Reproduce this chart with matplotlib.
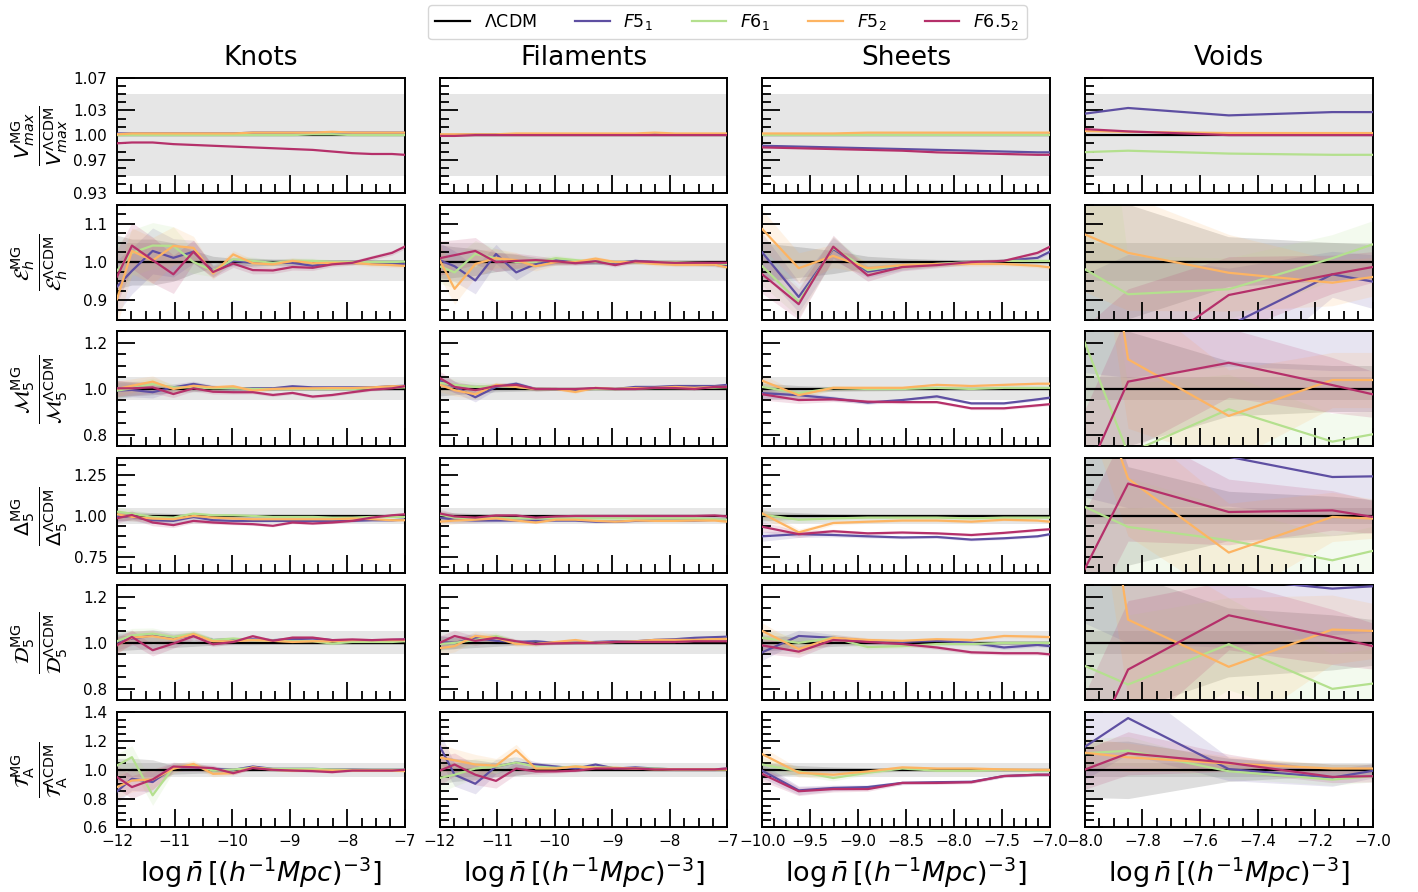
import matplotlib
matplotlib.use("Agg")
import matplotlib.pyplot as plt
from matplotlib.ticker import FixedLocator, MultipleLocator
from matplotlib.lines import Line2D

# ---------------- x grids (log n) ----------------
x_knots = [-12.0, -11.74, -11.38, -11.02, -10.67, -10.33, -9.98, -9.64,
           -9.29, -8.95, -8.60, -8.26, -7.91, -7.57, -7.22, -7.0]
x_fil = x_knots
x_sheets = [-10.0, -9.62, -9.26, -8.9, -8.54, -8.18, -7.82, -7.48, -7.13, -7.0]
x_voids = [-8.2, -7.85, -7.5, -7.14, -7.0]

# model order: F5_1, F6_1, F5_2, F6.5_2  (LCDM ratio is 1 everywhere)
# ---------------- V_max ----------------
vmax_knots = [
    [1.002, 1.002, 1.002, 1.002, 1.002, 1.002, 1.002, 1.003, 1.003, 1.003, 1.003, 1.003, 1.003, 1.003, 1.003, 1.003],
    [1.000, 1.000, 1.000, 1.000, 1.000, 1.000, 1.000, 1.000, 1.000, 1.000, 1.001, 1.001, 1.000, 1.000, 1.000, 1.000],
    [1.001, 1.002, 1.002, 1.002, 1.002, 1.002, 1.002, 1.003, 1.003, 1.003, 1.003, 1.004, 1.003, 1.003, 1.003, 1.003],
    [0.990, 0.991, 0.991, 0.989, 0.988, 0.987, 0.986, 0.985, 0.984, 0.983, 0.982, 0.980, 0.978, 0.977, 0.977, 0.976]]
vmax_fil = [
    [1.000, 1.000, 1.001, 1.001, 1.001, 1.001, 1.001, 1.001, 1.001, 1.001, 1.001, 1.001, 1.001, 1.001, 1.001, 1.001],
    [1.000, 1.000, 1.000, 1.000, 1.000, 1.000, 1.000, 1.000, 1.000, 1.000, 1.000, 1.000, 1.000, 1.000, 1.000, 1.000],
    [1.001, 1.001, 1.001, 1.001, 1.002, 1.002, 1.002, 1.002, 1.002, 1.002, 1.002, 1.003, 1.002, 1.002, 1.002, 1.002],
    [0.999, 0.999, 1.000, 1.000, 1.000, 1.000, 1.000, 1.000, 1.000, 1.000, 1.000, 1.000, 1.000, 1.000, 1.000, 1.000]]
vmax_sheets = [
    [0.987, 0.986, 0.985, 0.984, 0.983, 0.982, 0.981, 0.980, 0.979, 0.979],
    [1.000, 1.000, 1.000, 1.000, 1.000, 1.000, 1.000, 1.000, 1.000, 1.000],
    [1.002, 1.002, 1.002, 1.003, 1.003, 1.003, 1.003, 1.003, 1.003, 1.003],
    [0.985, 0.984, 0.983, 0.982, 0.981, 0.979, 0.978, 0.977, 0.976, 0.976]]
vmax_voids = [
    [1.017, 1.033, 1.024, 1.028, 1.028],
    [0.977, 0.981, 0.9775, 0.976, 0.976],
    [1.006, 1.004, 1.0025, 1.0025, 1.0025],
    [1.011, 1.0045, 1.000, 1.000, 1.000]]

# ---------------- E_h ----------------
eh_knots = [
    [0.936, 0.977, 1.029, 1.011, 1.027, 0.977, 1.003, 0.998, 0.998, 0.998, 0.990, 0.998, 1.000, 0.998, 0.996, 0.995],
    [0.977, 1.024, 1.043, 1.042, 1.000, 0.977, 1.007, 1.003, 0.998, 1.003, 1.003, 1.000, 1.000, 1.000, 1.000, 1.001],
    [0.903, 1.029, 1.004, 1.042, 1.037, 0.970, 1.020, 0.997, 0.994, 1.003, 0.997, 0.998, 0.998, 0.994, 0.992, 0.990],
    [0.962, 1.043, 1.005, 0.968, 1.027, 0.974, 0.996, 0.979, 0.978, 0.987, 0.985, 0.994, 0.998, 1.011, 1.024, 1.040]]
eh_fil = [
    [1.005, 0.989, 0.952, 1.021, 0.973, 0.995, 1.005, 1.000, 1.000, 0.997, 1.003, 1.000, 0.995, 0.995, 0.993, 0.989],
    [0.989, 0.973, 1.021, 1.010, 1.000, 1.000, 1.010, 1.005, 1.000, 1.000, 1.000, 1.000, 1.000, 0.998, 0.997, 0.995],
    [1.005, 0.930, 0.995, 1.010, 1.005, 0.989, 1.000, 1.000, 1.009, 1.000, 1.000, 0.995, 0.993, 0.993, 0.993, 0.986],
    [1.010, 1.018, 1.029, 1.000, 1.003, 1.005, 1.002, 0.997, 1.002, 0.992, 1.002, 1.000, 0.998, 0.998, 0.998, 0.998]]
eh_sheets = [
    [1.025, 0.909, 1.034, 0.975, 0.989, 0.995, 1.000, 1.003, 1.011, 1.027],
    [0.989, 0.896, 1.037, 0.979, 0.992, 0.995, 1.000, 1.003, 1.003, 1.003],
    [1.086, 0.984, 1.016, 0.984, 0.992, 0.995, 0.995, 0.995, 0.990, 0.986],
    [0.968, 0.890, 1.040, 0.965, 0.987, 0.992, 1.000, 1.003, 1.024, 1.040]]
eh_voids = [
    [0.60, 0.72, 0.834, 0.968, 0.949],
    [1.068, 0.916, 0.929, 1.010, 1.046],
    [1.136, 1.024, 0.972, 0.946, 0.961],
    [0.50, 0.73, 0.914, 0.968, 0.987]]

# ---------------- M_5 ----------------
m5_knots = [
    [0.993, 0.996, 0.986, 1.007, 1.022, 1.007, 1.000, 1.003, 1.003, 1.012, 1.007, 1.007, 1.007, 1.007, 1.012, 1.014],
    [0.993, 1.003, 1.022, 1.007, 1.007, 1.003, 1.003, 1.000, 1.000, 1.000, 1.000, 1.000, 1.000, 1.003, 1.005, 1.007],
    [1.000, 1.014, 1.032, 1.000, 1.014, 1.007, 1.012, 0.993, 1.000, 1.003, 1.003, 1.004, 1.004, 1.007, 1.012, 1.012],
    [1.003, 1.003, 1.007, 0.978, 1.003, 0.988, 0.986, 0.986, 0.974, 0.983, 0.967, 0.974, 0.986, 0.997, 1.003, 1.012]]
m5_fil = [
    [1.036, 1.009, 0.964, 1.009, 1.023, 1.000, 1.000, 0.996, 1.004, 1.000, 1.009, 1.009, 1.013, 1.013, 1.013, 1.018],
    [1.027, 1.018, 1.009, 1.013, 1.009, 1.000, 1.000, 1.000, 1.000, 1.000, 1.002, 1.004, 1.004, 1.004, 1.006, 1.008],
    [1.018, 0.995, 0.977, 1.018, 1.009, 1.000, 1.000, 0.987, 1.005, 1.000, 1.004, 1.005, 1.009, 1.005, 1.009, 1.009],
    [1.048, 1.009, 0.995, 1.013, 1.018, 1.000, 1.000, 1.000, 1.004, 1.000, 1.000, 1.005, 1.004, 1.000, 1.009, 1.009]]
m5_sheets = [
    [0.982, 0.973, 0.959, 0.941, 0.952, 0.968, 0.9375, 0.9375, 0.955, 0.9625],
    [1.009, 0.982, 1.004, 1.000, 1.000, 1.005, 1.000, 1.005, 1.005, 1.005],
    [1.036, 0.973, 1.005, 1.005, 1.005, 1.018, 1.013, 1.018, 1.023, 1.023],
    [0.977, 0.952, 0.955, 0.945, 0.943, 0.943, 0.916, 0.916, 0.929, 0.934]]
m5_voids = [
    [1.50, 1.45, 1.40, 1.38, 1.38],
    [1.84, 0.72, 0.912, 0.771, 0.803],
    [4.00, 1.129, 0.883, 1.039, 1.039],
    [0.05, 1.032, 1.114, 1.017, 0.977]]

# ---------------- Delta_5 ----------------
d5_knots = [
    [1.000, 0.994, 0.974, 0.970, 0.994, 0.974, 0.970, 0.970, 0.970, 0.970, 0.970, 0.970, 0.970, 0.974, 0.974, 0.978],
    [1.026, 1.014, 0.994, 0.990, 1.014, 1.004, 1.004, 1.000, 0.994, 0.994, 0.994, 0.990, 0.990, 0.994, 0.994, 0.994],
    [1.010, 0.994, 0.984, 0.980, 1.000, 0.990, 0.984, 0.980, 0.980, 0.980, 0.980, 0.980, 0.984, 0.980, 0.974, 0.974],
    [0.986, 1.006, 0.960, 0.944, 0.970, 0.960, 0.954, 0.950, 0.940, 0.960, 0.954, 0.960, 0.970, 0.990, 1.004, 1.010]]
d5_fil = [
    [0.990, 0.977, 0.972, 0.972, 0.972, 0.972, 0.972, 0.972, 0.965, 0.965, 0.970, 0.972, 0.972, 0.972, 0.977, 0.977],
    [1.008, 0.990, 0.985, 0.990, 0.985, 0.985, 0.985, 0.985, 0.985, 0.985, 0.985, 0.985, 0.985, 0.985, 0.980, 0.977],
    [0.965, 0.972, 0.977, 0.985, 0.972, 0.960, 0.977, 0.977, 0.970, 0.965, 0.972, 0.970, 0.970, 0.972, 0.972, 0.965],
    [1.015, 0.997, 0.990, 1.003, 1.003, 0.990, 0.997, 1.000, 1.000, 1.000, 1.000, 1.000, 1.000, 1.000, 1.003, 0.997]]
d5_sheets = [
    [0.876, 0.889, 0.884, 0.876, 0.869, 0.872, 0.856, 0.864, 0.876, 0.889],
    [1.008, 0.977, 0.985, 0.990, 0.990, 0.990, 0.985, 0.990, 0.990, 0.990],
    [1.015, 0.900, 0.957, 0.965, 0.972, 0.972, 0.965, 0.977, 0.972, 0.965],
    [0.934, 0.889, 0.907, 0.894, 0.899, 0.894, 0.884, 0.897, 0.914, 0.919]]
d5_voids = [
    [1.60, 1.45, 1.36, 1.237, 1.241],
    [1.217, 0.933, 0.852, 0.730, 0.787],
    [3.00, 1.227, 0.777, 0.994, 0.984],
    [-0.01, 1.197, 1.024, 1.034, 0.994]]

# ---------------- D_5 ----------------
dd5_knots = [
    [1.004, 1.019, 1.033, 1.019, 1.033, 1.012, 1.015, 1.015, 1.012, 1.016, 1.019, 1.012, 1.012, 1.012, 1.012, 1.015],
    [1.007, 1.033, 1.040, 1.026, 1.040, 1.012, 1.019, 1.012, 1.009, 1.007, 1.007, 0.997, 1.004, 1.004, 1.004, 1.007],
    [0.990, 1.023, 1.029, 1.015, 1.038, 1.007, 1.007, 1.012, 1.009, 1.004, 1.007, 1.007, 1.012, 1.012, 1.012, 1.012],
    [0.990, 1.026, 0.968, 0.997, 1.029, 0.994, 1.004, 1.029, 1.009, 1.023, 1.023, 1.012, 1.015, 1.012, 1.015, 1.015]]
dd5_fil = [
    [1.004, 1.000, 1.022, 1.009, 1.004, 1.007, 1.000, 1.000, 1.004, 1.007, 1.007, 1.013, 1.016, 1.022, 1.025, 1.027],
    [0.995, 1.000, 1.013, 1.030, 1.004, 0.995, 1.000, 1.000, 1.000, 1.004, 1.004, 1.004, 1.004, 1.009, 1.016, 1.016],
    [0.977, 0.986, 1.030, 1.022, 0.995, 0.995, 1.004, 1.0125, 1.000, 1.004, 1.007, 1.013, 1.013, 1.013, 1.016, 1.018],
    [1.000, 1.030, 1.009, 1.022, 1.007, 0.995, 0.998, 1.000, 1.000, 1.004, 1.004, 1.004, 1.004, 1.007, 1.007, 1.007]]
dd5_sheets = [
    [0.959, 1.030, 1.022, 1.009, 1.004, 1.009, 1.000, 0.980, 0.991, 0.986],
    [1.022, 1.000, 1.022, 0.982, 0.986, 0.995, 0.995, 1.000, 1.000, 1.000],
    [1.052, 0.973, 1.022, 1.0125, 1.009, 1.016, 1.0125, 1.030, 1.027, 1.025],
    [0.989, 0.962, 1.0125, 1.004, 0.995, 0.980, 0.959, 0.955, 0.955, 0.950]]
dd5_voids = [
    [1.60, 1.40, 1.28, 1.236, 1.246],
    [1.008, 0.819, 0.994, 0.800, 0.823],
    [4.00, 1.101, 0.896, 1.058, 1.052],
    [-0.06, 0.884, 1.120, 1.026, 0.986]]

# ---------------- T_A ----------------
ta_knots = [
    [0.850, 0.938, 0.915, 1.018, 1.018, 1.005, 1.000, 1.023, 1.007, 1.007, 1.007, 1.002, 1.002, 1.000, 1.000, 1.000],
    [1.030, 1.088, 0.823, 1.018, 1.030, 0.995, 1.002, 1.014, 1.007, 1.007, 1.007, 1.002, 1.000, 1.000, 1.000, 1.000],
    [0.880, 0.926, 0.933, 1.007, 1.041, 0.972, 0.977, 1.018, 1.000, 0.995, 0.995, 0.995, 0.995, 0.995, 0.995, 0.991],
    [0.950, 0.880, 0.933, 1.023, 1.018, 1.012, 0.977, 1.012, 1.000, 0.995, 0.991, 0.984, 0.995, 0.995, 0.995, 1.000]]
ta_fil = [
    [1.166, 0.966, 0.903, 1.023, 1.051, 1.037, 1.023, 1.009, 1.037, 1.009, 1.017, 1.009, 1.003, 1.003, 1.003, 1.009],
    [0.943, 0.966, 1.009, 1.023, 1.051, 1.023, 1.014, 1.023, 1.017, 1.014, 1.009, 1.009, 1.003, 1.003, 1.003, 1.003],
    [1.086, 1.066, 1.037, 1.029, 1.137, 1.009, 1.009, 1.023, 1.014, 1.014, 1.009, 1.003, 1.003, 1.003, 1.003, 1.003],
    [0.994, 1.037, 0.966, 0.923, 1.009, 0.989, 0.989, 0.994, 1.009, 1.009, 1.009, 1.003, 1.003, 1.003, 1.003, 1.009]]
ta_sheets = [
    [0.994, 0.857, 0.874, 0.880, 0.909, 0.914, 0.917, 0.957, 0.966, 0.966],
    [1.037, 0.989, 0.943, 0.980, 1.009, 0.994, 0.994, 1.000, 0.994, 0.994],
    [1.109, 0.980, 0.966, 0.989, 1.017, 1.009, 1.009, 1.003, 1.000, 1.000],
    [0.971, 0.851, 0.866, 0.866, 0.909, 0.909, 0.914, 0.957, 0.966, 0.966]]
ta_voids = [
    [0.895, 1.360, 1.005, 0.946, 0.993],
    [1.091, 1.133, 0.990, 0.932, 0.956],
    [1.162, 1.087, 1.044, 1.009, 1.009],
    [0.851, 1.115, 1.049, 0.951, 0.956]]

# ---------------- error bands (half widths) ----------------
# knots / filaments / sheets: one band per panel, shared by all runs
err_eh_knots = [0.07, 0.06, 0.06, 0.05, 0.03, 0.015, 0.01, 0.01, 0.008, 0.008, 0.007, 0.006, 0.006, 0.006, 0.006, 0.006]
err_eh_fil = [0.045, 0.04, 0.035, 0.025, 0.02, 0.012, 0.008, 0.006, 0.006, 0.005, 0.005, 0.005, 0.005, 0.005, 0.005, 0.005]
err_eh_sheets = [0.05, 0.04, 0.03, 0.015, 0.01, 0.007, 0.006, 0.005, 0.005, 0.005]
err_m5_knots = [0.035, 0.03, 0.025, 0.015, 0.012, 0.01, 0.008, 0.007, 0.007, 0.006, 0.006, 0.006, 0.006, 0.006, 0.006, 0.006]
err_m5_fil = [0.03, 0.025, 0.02, 0.012, 0.01, 0.008, 0.006, 0.006, 0.005, 0.005, 0.005, 0.005, 0.005, 0.005, 0.005, 0.005]
err_m5_sheets = [0.025, 0.015, 0.01, 0.008, 0.007, 0.006, 0.006, 0.006, 0.006, 0.006]
err_d5_knots = [0.03, 0.025, 0.02, 0.015, 0.012, 0.01, 0.008, 0.008, 0.007, 0.007, 0.007, 0.007, 0.007, 0.007, 0.007, 0.007]
err_d5_fil = [0.025, 0.02, 0.015, 0.01, 0.008, 0.007, 0.006, 0.006, 0.006, 0.006, 0.006, 0.006, 0.006, 0.006, 0.006, 0.006]
err_d5_sheets = [0.03, 0.02, 0.012, 0.01, 0.008, 0.008, 0.008, 0.008, 0.008, 0.008]
err_dd5_knots = [0.035, 0.03, 0.025, 0.02, 0.015, 0.01, 0.008, 0.008, 0.007, 0.007, 0.007, 0.007, 0.007, 0.007, 0.007, 0.007]
err_dd5_fil = [0.03, 0.025, 0.02, 0.015, 0.01, 0.008, 0.006, 0.006, 0.006, 0.006, 0.006, 0.006, 0.006, 0.006, 0.006, 0.006]
err_dd5_sheets = [0.035, 0.025, 0.015, 0.01, 0.008, 0.008, 0.008, 0.008, 0.008, 0.008]
err_ta_knots = [0.08, 0.08, 0.07, 0.03, 0.025, 0.02, 0.012, 0.01, 0.008, 0.008, 0.007, 0.007, 0.007, 0.007, 0.007, 0.007]
err_ta_fil = [0.1, 0.08, 0.07, 0.05, 0.04, 0.02, 0.012, 0.01, 0.008, 0.008, 0.008, 0.008, 0.008, 0.008, 0.008, 0.008]
err_ta_sheets = [0.05, 0.03, 0.02, 0.015, 0.012, 0.01, 0.01, 0.01, 0.01, 0.01]
# voids: one band per run, order LCDM, F5_1, F6_1, F5_2, F6.5_2
err_eh_voids = [[2.0, 0.15, 0.065, 0.05, 0.045], [0.3, 0.3, 0.15, 0.06, 0.07], [2.0, 0.1, 0.08, 0.06, 0.06],
                [0.15, 0.15, 0.1, 0.06, 0.05], [0.2, 0.2, 0.1, 0.05, 0.04]]
err_m5_voids = [[2.0, 0.25, 0.12, 0.1, 0.1], [0.4, 0.4, 0.3, 0.3, 0.3], [2.0, 0.3, 0.15, 0.12, 0.1],
                [0.3, 0.3, 0.2, 0.12, 0.12], [0.3, 0.3, 0.15, 0.12, 0.1]]
err_d5_voids = [[2.0, 0.3, 0.15, 0.12, 0.1], [0.4, 0.4, 0.3, 0.25, 0.25], [2.0, 0.3, 0.2, 0.15, 0.15],
                [0.35, 0.35, 0.3, 0.15, 0.12], [0.35, 0.35, 0.2, 0.12, 0.1]]
err_dd5_voids = [[2.0, 0.3, 0.15, 0.12, 0.1], [0.4, 0.4, 0.3, 0.2, 0.2], [2.0, 0.3, 0.2, 0.15, 0.15],
                 [0.35, 0.35, 0.3, 0.15, 0.12], [0.3, 0.3, 0.15, 0.12, 0.1]]
err_ta_voids = [[0.18, 0.2, 0.08, 0.04, 0.04], [0.2, 0.25, 0.08, 0.06, 0.05], [0.1, 0.1, 0.05, 0.04, 0.04],
                [0.1, 0.1, 0.05, 0.03, 0.03], [0.12, 0.15, 0.06, 0.04, 0.04]]

# ---------------- labels ----------------
environments = ["Knots", "Filaments", "Sheets", "Voids"]
models = [r"$F5_1$", r"$F6_1$", r"$F5_2$", r"$F6.5_2$"]
colors = ["#5e4fa2", "#b4e08e", "#fdb462", "#b5306a"]
ylabels = [r"$\frac{V_{max}^{\rm MG}}{V_{max}^{\Lambda \rm CDM}}$",
           r"$\frac{\mathcal{E}_h^{\rm MG}}{\mathcal{E}_h^{\Lambda \rm CDM}}$",
           r"$\frac{\mathcal{M}_5^{\rm MG}}{\mathcal{M}_5^{\Lambda \rm CDM}}$",
           r"$\frac{\Delta_5^{\rm MG}}{\Delta_5^{\Lambda \rm CDM}}$",
           r"$\frac{\mathcal{D}_5^{\rm MG}}{\mathcal{D}_5^{\Lambda \rm CDM}}$",
           r"$\frac{\mathcal{T}_{\rm A}^{\rm MG}}{\mathcal{T}_{\rm A}^{\Lambda \rm CDM}}$"]

xs = [x_knots, x_fil, x_sheets, x_voids]
data = [[vmax_knots, vmax_fil, vmax_sheets, vmax_voids],
        [eh_knots, eh_fil, eh_sheets, eh_voids],
        [m5_knots, m5_fil, m5_sheets, m5_voids],
        [d5_knots, d5_fil, d5_sheets, d5_voids],
        [dd5_knots, dd5_fil, dd5_sheets, dd5_voids],
        [ta_knots, ta_fil, ta_sheets, ta_voids]]
errs = [[None, None, None, None],
        [err_eh_knots, err_eh_fil, err_eh_sheets, err_eh_voids],
        [err_m5_knots, err_m5_fil, err_m5_sheets, err_m5_voids],
        [err_d5_knots, err_d5_fil, err_d5_sheets, err_d5_voids],
        [err_dd5_knots, err_dd5_fil, err_dd5_sheets, err_dd5_voids],
        [err_ta_knots, err_ta_fil, err_ta_sheets, err_ta_voids]]

row_ylims = [(0.93, 1.07), (0.85, 1.15), (0.75, 1.25), (0.65, 1.35), (0.75, 1.25), (0.6, 1.4)]
row_yticks = [[0.93, 0.97, 1.00, 1.03, 1.07], [0.9, 1.0, 1.1], [0.8, 1.0, 1.2],
              [0.75, 1.00, 1.25], [0.8, 1.0, 1.2], [0.6, 0.8, 1.0, 1.2, 1.4]]
row_yminor = [0.01, 0.025, 0.05, 0.0625, 0.05, 0.05]
col_xlims = [(-12, -7), (-12, -7), (-10, -7), (-8, -7)]
col_xticks = [[-12, -11, -10, -9, -8, -7], [-12, -11, -10, -9, -8, -7],
              [-10.0, -9.5, -9.0, -8.5, -8.0, -7.5, -7.0], [-8.0, -7.8, -7.6, -7.4, -7.2, -7.0]]
col_xminor = [0.25, 0.25, 0.125, 0.05]

# ---------------- plot ----------------
fig, axes = plt.subplots(6, 4, figsize=(14.18, 8.92), dpi=100, sharex='col', sharey='row')
plt.subplots_adjust(left=0.0825, right=0.968, top=0.913, bottom=0.0725, wspace=0.1215, hspace=0.104)

for i in range(6):
    for j in range(4):
        ax = axes[i, j]
        x = xs[j]
        ax.axhspan(0.95, 1.05, color="#e6e6e6", zorder=0, lw=0)
        e = errs[i][j]
        if e is not None:
            if isinstance(e[0], list):
                e_l, e_m = e[0], e[1:]
            else:
                e_l, e_m = e, [e] * 4
            ax.fill_between(x, [1 - v for v in e_l], [1 + v for v in e_l], color="k", alpha=0.13, lw=0, zorder=1)
            for k in range(4):
                y = data[i][j][k]
                ax.fill_between(x, [a - b for a, b in zip(y, e_m[k])], [a + b for a, b in zip(y, e_m[k])],
                                color=colors[k], alpha=0.15, lw=0, zorder=1)
        ax.plot(x, [1.0] * len(x), color="k", lw=1.6, zorder=2)
        for k in range(4):
            ax.plot(x, data[i][j][k], color=colors[k], lw=1.6, zorder=3)

        ax.set_xlim(col_xlims[j])
        ax.set_ylim(row_ylims[i])
        ax.xaxis.set_major_locator(FixedLocator(col_xticks[j]))
        ax.xaxis.set_minor_locator(MultipleLocator(col_xminor[j]))
        ax.yaxis.set_major_locator(FixedLocator(row_yticks[i]))
        ax.yaxis.set_minor_locator(MultipleLocator(row_yminor[i]))
        ax.tick_params(which="both", direction="in", top=False, right=False, labelsize=11, width=1.3)
        ax.tick_params(which="major", length=13)
        ax.tick_params(which="minor", length=6.5)
        ax.tick_params(axis="y", which="major", pad=7)
        ax.tick_params(axis="x", which="major", pad=4.5)
        for s in ax.spines.values():
            s.set_linewidth(1.4)
        if i == 0:
            ax.set_title(environments[j], fontsize=19, pad=9)
        if i == 5:
            ax.set_xlabel(r"$\log\bar{n}\,[(h^{-1}Mpc)^{-3}]$", fontsize=19.5, labelpad=5)
        if j == 0:
            ax.set_ylabel(ylabels[i], fontsize=21, labelpad=2)

fig.align_ylabels(axes[:, 0])

handles = [Line2D([], [], color="k", lw=1.6)] + [Line2D([], [], color=c, lw=1.6) for c in colors]
labels = [r"$\Lambda$CDM"] + models
fig.legend(handles, labels, loc="upper center", ncol=5, bbox_to_anchor=(0.513, 1.0),
           fontsize=12.5, frameon=True, columnspacing=2.2, borderaxespad=0.3)

fig.savefig("out.png", dpi=100)
